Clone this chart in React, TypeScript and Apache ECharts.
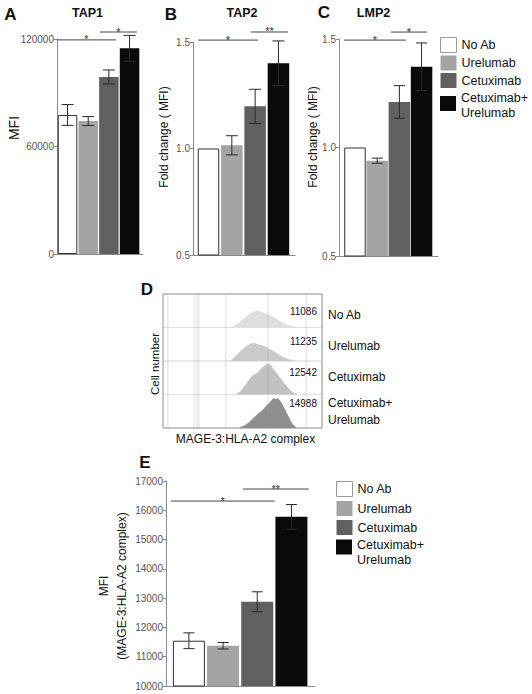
import React, { useEffect, useRef } from 'react';
import * as echarts from 'echarts';

const FONT = "'Liberation Sans', Arial, Helvetica, sans-serif";

const treatments = ['No Ab', 'Urelumab', 'Cetuximab', 'Cetuximab+\nUrelumab'];
const barColors = ['#ffffff', '#a4a4a6', '#606060', '#0a0a0a'];

const tap1Values = [77600, 74200, 98800, 114800];
const tap1Errors = [5800, 2500, 3900, 7200];
const tap2Values = [1.0, 1.015, 1.198, 1.4];
const tap2Errors = [0, 0.045, 0.08, 0.105];
const lmp2Values = [1.0, 0.939, 1.21, 1.372];
const lmp2Errors = [0, 0.012, 0.075, 0.11];
const mageValues = [11546, 11375, 12877, 15778];
const mageErrors = [270, 110, 340, 420];

const tap1Ticks = [0, 120000, 60000];
const foldTicks = [0.5, 1.5, 0.5];
const mageTicks = [10000, 17000, 1000];

// significance brackets [from, to, level] in axis units
const tap1Sig = [[-0.51, 2.34, 119500], [1.57, 3.36, 123900]];
const tap1SigLabels = ['*', '*'];
const tap2Sig = [[-0.45, 2.12, 1.509], [1.82, 3.41, 1.547]];
const tap2SigLabels = ['*', '**'];
const lmp2Sig = [[-0.5, 2.3, 1.495], [1.62, 3.24, 1.532]];
const lmp2SigLabels = ['*', '*'];
const mageSig = [[-0.53, 2.51, 16316], [1.58, 3.51, 16726]];
const mageSigLabels = ['*', '**'];

// flow histograms (x on 0-100 display scale, y as fraction of row height)
const histNoAb = [[42, 0], [45, 0.05], [48, 0.14], [51, 0.26], [54, 0.38], [57, 0.46], [59, 0.5], [61, 0.47], [64, 0.42], [67, 0.36], [70, 0.28], [73, 0.2], [76, 0.12], [79, 0.06], [82, 0.02], [84, 0]];
const histUrelumab = [[42, 0], [44, 0.06], [47, 0.2], [50, 0.34], [53, 0.45], [55, 0.5], [57, 0.53], [59, 0.5], [62, 0.46], [65, 0.4], [68, 0.32], [71, 0.24], [74, 0.15], [77, 0.08], [80, 0.03], [83, 0]];
const histCetuximab = [[46, 0], [49, 0.1], [52, 0.28], [55, 0.48], [57, 0.58], [59, 0.63], [61, 0.72], [63, 0.82], [65, 0.88], [66, 0.92], [68, 0.85], [70, 0.72], [72, 0.6], [74, 0.47], [76, 0.34], [79, 0.18], [81, 0.08], [84, 0]];
const histCombo = [[48, 0], [51, 0.06], [54, 0.16], [57, 0.3], [60, 0.42], [62, 0.5], [64, 0.6], [66, 0.7], [68, 0.8], [69, 0.86], [70, 0.88], [71, 0.85], [72, 0.87], [74, 0.78], [76, 0.6], [78, 0.42], [80, 0.22], [82, 0.08], [84, 0]];
const histograms = [histNoAb, histUrelumab, histCetuximab, histCombo];
const histColors = ['#dedede', '#cacaca', '#c2c2c2', '#8e8e8e'];
const histMfi = ['11086', '11235', '12542', '14988'];
const gateLines = [3.1, 19.5, 21.4, 22.6, 39.6, 66, 90];

const AXIS_GRAY = '#8a8a8a';

function txt(text: string, x: number, y: number, o: any = {}) {
  const align = o.align || 'center';
  const va = o.va || 'middle';
  return {
    type: 'text',
    x,
    y,
    rotation: o.rot || 0,
    silent: true,
    style: {
      text,
      fontSize: o.size || 12,
      fontWeight: o.bold ? 'bold' : 'normal',
      fontFamily: FONT,
      fill: o.color || '#111',
      align,
      verticalAlign: va,
      textAlign: align,
      textVerticalAlign: va,
      lineHeight: o.lh,
    },
  };
}

function barPanel(idx: number, values: number[], errors: number[], sig: number[][], sigLabels: string[], barWidth: number, capW: number) {
  const series: any[] = [];
  values.forEach((v, i) => {
    series.push({
      type: 'bar',
      name: treatments[i],
      xAxisIndex: idx,
      yAxisIndex: idx,
      barWidth,
      barGap: '-100%',
      silent: true,
      data: [[i, v]],
      itemStyle: {
        color: barColors[i],
        borderColor: i === 0 ? '#333' : barColors[i],
        borderWidth: i === 0 ? 1 : 0,
      },
      z: 2,
    });
  });
  series.push({
    type: 'custom',
    xAxisIndex: idx,
    yAxisIndex: idx,
    silent: true,
    z: 5,
    encode: { x: 0, y: 1 },
    data: values.map((v, i) => [i, v, errors[i]]),
    renderItem: (params: any, api: any) => {
      const x = api.value(0);
      const y = api.value(1);
      const e = api.value(2);
      if (!e) return { type: 'group', children: [] };
      const t = api.coord([x, y + e]);
      const b = api.coord([x, y - e]);
      const h = capW / 2;
      const st = { stroke: '#2a2a2a', lineWidth: 1 };
      return {
        type: 'group',
        children: [
          { type: 'line', shape: { x1: t[0], y1: t[1], x2: b[0], y2: b[1] }, style: st },
          { type: 'line', shape: { x1: t[0] - h, y1: t[1], x2: t[0] + h, y2: t[1] }, style: st },
          { type: 'line', shape: { x1: b[0] - h, y1: b[1], x2: b[0] + h, y2: b[1] }, style: st },
        ],
      };
    },
  });
  series.push({
    type: 'custom',
    xAxisIndex: idx,
    yAxisIndex: idx,
    silent: true,
    z: 5,
    clip: false,
    encode: { x: [0, 1], y: 2 },
    data: sig,
    renderItem: (params: any, api: any) => {
      const a = api.coord([api.value(0), api.value(2)]);
      const b = api.coord([api.value(1), api.value(2)]);
      const label = sigLabels[params.dataIndex];
      return {
        type: 'group',
        children: [
          { type: 'line', shape: { x1: a[0], y1: a[1], x2: b[0], y2: b[1] }, style: { stroke: '#444', lineWidth: 1 } },
          {
            type: 'text',
            x: (a[0] + b[0]) / 2,
            y: a[1] + 5,
            style: {
              text: label,
              fontSize: 11,
              fontFamily: FONT,
              fill: '#333',
              align: 'center',
              verticalAlign: 'bottom',
              textAlign: 'center',
              textVerticalAlign: 'bottom',
            },
          },
        ],
      };
    },
  });
  return series;
}

function valueAxisX(gridIndex: number, min: number, max: number) {
  return {
    type: 'value',
    gridIndex,
    min,
    max,
    axisLine: { show: true, onZero: false, lineStyle: { color: AXIS_GRAY, width: 1 } },
    axisTick: { show: false },
    axisLabel: { show: false },
    splitLine: { show: false },
  };
}

function valueAxisY(gridIndex: number, ticks: number[], fmt: (v: number) => string) {
  return {
    type: 'value',
    gridIndex,
    min: ticks[0],
    max: ticks[1],
    interval: ticks[2],
    axisLine: { show: true, onZero: false, lineStyle: { color: AXIS_GRAY, width: 1 } },
    axisTick: { show: true, length: 3, lineStyle: { color: AXIS_GRAY } },
    axisLabel: {
      show: true,
      fontSize: 10,
      color: '#555',
      fontFamily: FONT,
      margin: 3,
      formatter: fmt,
    },
    splitLine: { show: false },
  };
}

function hiddenAxis(gridIndex: number, min: number, max: number) {
  return { type: 'value', gridIndex, min, max, show: false, splitLine: { show: false } };
}

const legendBase = {
  orient: 'vertical',
  icon: 'rect',
  itemWidth: 16,
  itemHeight: 15,
  padding: 0,
  selectedMode: false,
};

export default function App() {
  const ref = useRef<HTMLDivElement>(null);
  useEffect(() => {
    if (!ref.current) return;
    const chart = echarts.init(ref.current, undefined, { renderer: 'svg' });

    const rowTops = [294, 327.5, 361, 394.5];
    const grids: any[] = [
      { left: 57, top: 39, width: 86, height: 215 },
      { left: 193, top: 42, width: 102, height: 213 },
      { left: 339, top: 39, width: 99, height: 217 },
      { left: 166, top: 481, width: 149, height: 205 },
      ...rowTops.map((t) => ({ left: 163, top: t, width: 159, height: 33.5, show: true, borderColor: '#e2e2e2', borderWidth: 1, backgroundColor: 'transparent' })),
      { left: 163, top: 294, width: 159, height: 134, show: true, borderColor: '#9a9a9a', borderWidth: 1, backgroundColor: 'transparent' },
    ];

    const plain = (v: number) => String(v);
    const fold = (v: number) => v.toFixed(1);
    const xAxis: any[] = [
      valueAxisX(0, -0.51, 3.65),
      valueAxisX(1, -0.665, 3.71),
      valueAxisX(2, -0.72, 3.74),
      valueAxisX(3, -0.67, 3.69),
      ...[4, 5, 6, 7, 8].map((g) => hiddenAxis(g, 0, 100)),
    ];
    const yAxis: any[] = [
      valueAxisY(0, tap1Ticks, plain),
      valueAxisY(1, foldTicks, fold),
      valueAxisY(2, foldTicks, fold),
      valueAxisY(3, mageTicks, plain),
      ...[4, 5, 6, 7, 8].map((g) => hiddenAxis(g, 0, 1)),
    ];

    const series: any[] = [
      ...barPanel(0, tap1Values, tap1Errors, tap1Sig, tap1SigLabels, 19.5, 12),
      ...barPanel(1, tap2Values, tap2Errors, tap2Sig, tap2SigLabels, 21.5, 12),
      ...barPanel(2, lmp2Values, lmp2Errors, lmp2Sig, lmp2SigLabels, 21.5, 11),
      ...barPanel(3, mageValues, mageErrors, mageSig, mageSigLabels, 32, 11),
      ...histograms.map((h, i) => ({
        type: 'line',
        xAxisIndex: 4 + i,
        yAxisIndex: 4 + i,
        data: h,
        symbol: 'none',
        silent: true,
        smooth: 0.2,
        lineStyle: { color: histColors[i], width: 0.8 },
        areaStyle: { color: histColors[i], opacity: 1 },
        z: 2,
      })),
      {
        type: 'custom',
        xAxisIndex: 8,
        yAxisIndex: 8,
        silent: true,
        z: 4,
        encode: { x: 0, y: 1 },
        data: gateLines.map((g) => [g, 0]),
        renderItem: (params: any, api: any) => {
          const a = api.coord([api.value(0), 0]);
          const b = api.coord([api.value(0), 1]);
          return { type: 'line', shape: { x1: a[0], y1: a[1], x2: b[0], y2: b[1] }, style: { stroke: 'rgba(150,150,150,0.4)', lineWidth: 0.8 } };
        },
      },
    ];

    const graphic: any[] = [
      txt('A', 10.5, 14, { size: 17, bold: true }),
      txt('TAP1', 87.5, 12.5, { size: 12.5, bold: true }),
      txt('B', 171, 14, { size: 17, bold: true }),
      txt('TAP2', 242, 12.5, { size: 12.5, bold: true }),
      txt('C', 324, 12.5, { size: 17, bold: true }),
      txt('LMP2', 373.5, 12.5, { size: 12.5, bold: true }),
      txt('D', 147, 289, { size: 17, bold: true }),
      txt('E', 145, 462, { size: 17, bold: true }),
      txt('MFI', 13.5, 128, { size: 14, rot: Math.PI / 2 }),
      txt('Fold change ( MFI)', 164, 137, { size: 12, rot: Math.PI / 2 }),
      txt('Fold change ( MFI)', 313, 137, { size: 12, rot: Math.PI / 2 }),
      txt('MFI', 104, 586, { size: 12, rot: Math.PI / 2 }),
      txt('(MAGE-3:HLA-A2 complex)', 122, 586, { size: 12, rot: Math.PI / 2 }),
      txt('Cell number', 155, 364, { size: 11.5, rot: Math.PI / 2 }),
      txt('MAGE-3:HLA-A2 complex', 245.5, 439, { size: 12 }),
      ...histMfi.map((m, i) => txt(m, 317, [311.7, 341.5, 372, 403][i], { size: 10, align: 'right' })),
      ...treatments.map((t, i) => txt(t, 328, [315, 346, 377, 411.5][i], { size: 12, align: 'left', lh: 17 })),
    ];

    const legendText = { fontSize: 12.5, lineHeight: 15, color: '#111', fontFamily: FONT };
    const firstThree = treatments.slice(0, 3).map((n, i) =>
      i === 0 ? { name: n, itemStyle: { borderColor: '#9a9a9a', borderWidth: 1 } } : { name: n }
    );
    // two-line legend entry: a thin spacer line pushes the text so its first line sits level with the swatch
    const twoLine = (spacer: number) => ({
      formatter: (name: string) => '{s|\u00a0}\n' + name.split('\n').map((p) => '{t|' + p + '}').join('\n'),
      textStyle: {
        ...legendText,
        rich: {
          s: { fontSize: 1, lineHeight: spacer, fontFamily: FONT },
          t: { fontSize: 12.5, lineHeight: 15, fontFamily: FONT, color: '#111' },
        },
      },
    });
    const legend: any[] = [
      { ...legendBase, data: firstThree, left: 440, top: 37, itemGap: 2.5, textStyle: legendText },
      { ...legendBase, data: [treatments[3]], left: 440, top: 86.5, ...twoLine(4) },
      { ...legendBase, data: firstThree, left: 336, top: 481, itemGap: 4, textStyle: legendText },
      { ...legendBase, data: [treatments[3]], left: 336, top: 526.5, ...twoLine(11) },
    ];

    chart.setOption({
      animation: false,
      backgroundColor: '#ffffff',
      textStyle: { fontFamily: FONT },
      grid: grids,
      xAxis,
      yAxis,
      series,
      legend,
      graphic,
      tooltip: { show: false },
    });
    return () => chart.dispose();
  }, []);
  return <div ref={ref} style={{ position: 'absolute', left: 0, top: 0, width: 532, height: 694, background: '#fff' }} />;
}
